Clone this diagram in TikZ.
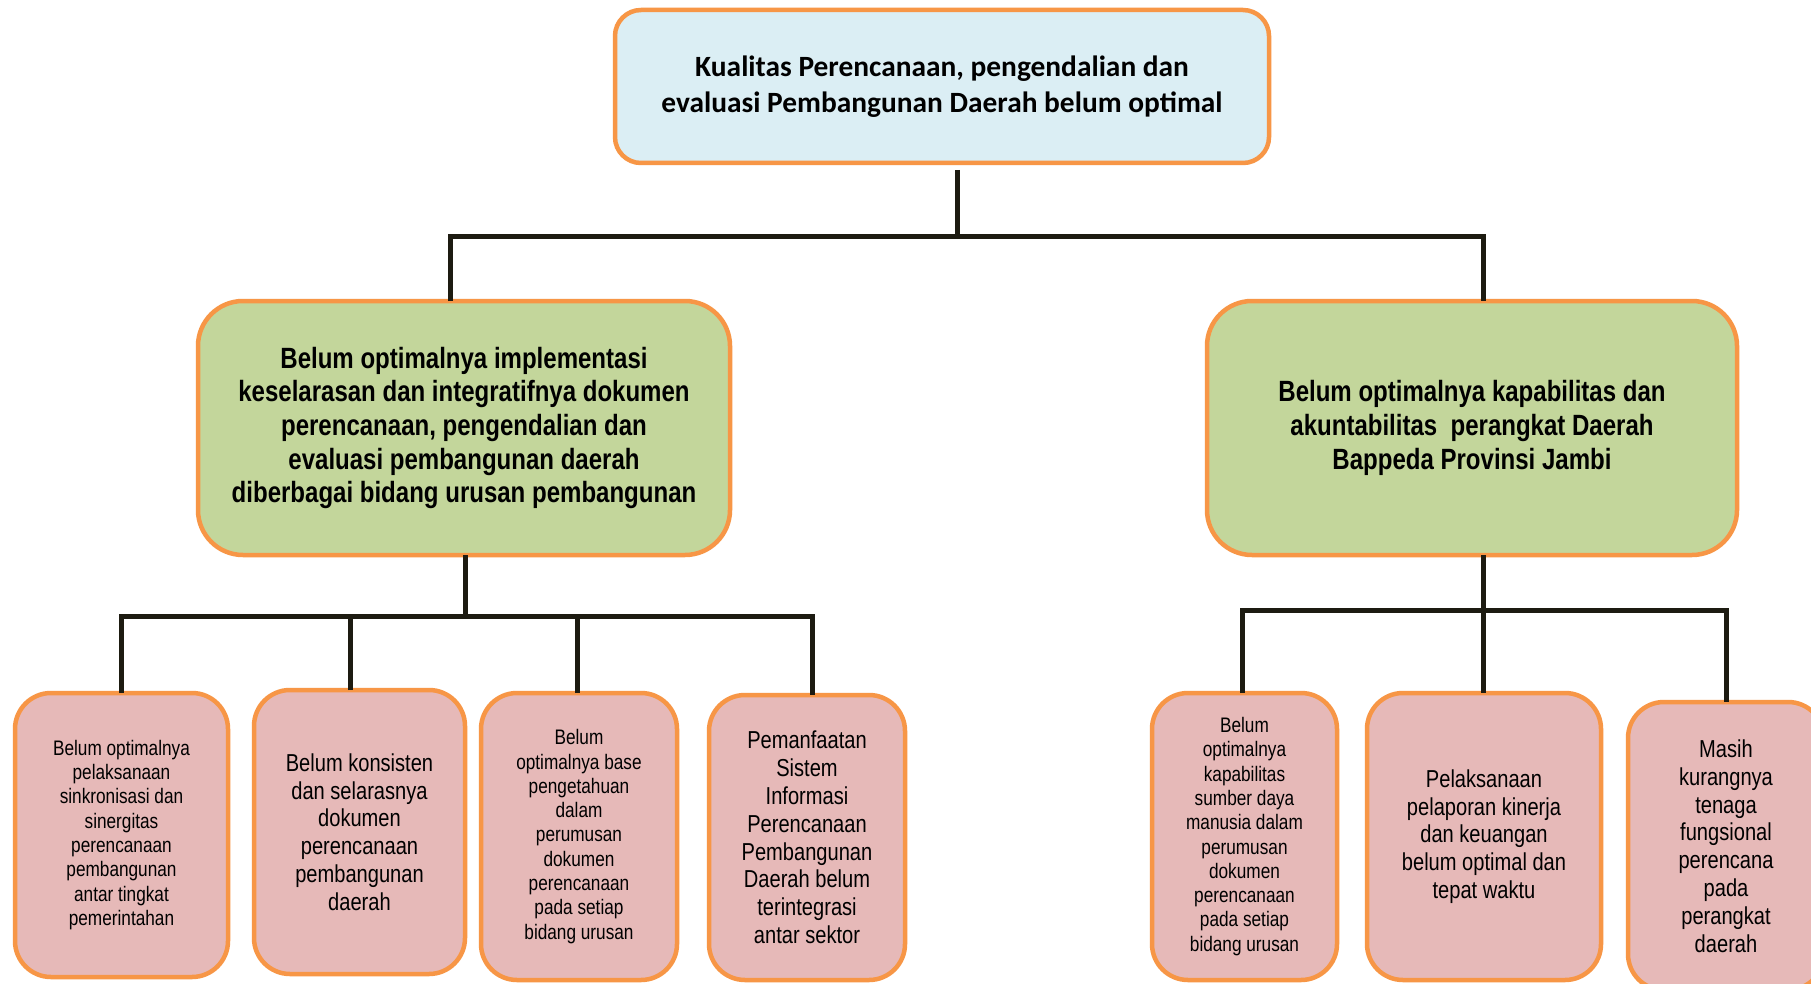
\documentclass[tikz,border=0pt]{standalone}
\usepackage{fontspec}
\setmainfont{Liberation Sans}
\newfontfamily\carlito{Carlito}
\newfontfamily\narrowfont[FakeStretch=0.82]{Liberation Sans}
\usetikzlibrary{calc}
\definecolor{obor}{HTML}{F79646}
\definecolor{topblue}{HTML}{DBEEF4}
\definecolor{midgreen}{HTML}{C3D69B}
\definecolor{lowpink}{HTML}{E6B9B8}
\definecolor{linec}{HTML}{1D1B11}
\tikzset{
  box/.style={draw=obor, line width=4.5pt, align=center, inner sep=0pt, outer sep=0pt},
  topbox/.style={box, fill=topblue, rounded corners=26pt, font=\carlito\bfseries\fontsize{29.4}{36}\selectfont},
  midbox/.style={box, fill=midgreen, rounded corners=45pt, font=\narrowfont\bfseries\fontsize{29.3}{33.7}\selectfont},
  lowbox/.style={box, fill=lowpink, rounded corners=36pt},
  smalltxt/.style={font=\narrowfont\fontsize{21}{24.3}\selectfont},
  bigtxt/.style={font=\narrowfont\fontsize{24.5}{27.8}\selectfont},
  conn/.style={draw=linec, line width=5pt},
}
\begin{document}
\begin{tikzpicture}[x=1pt,y=-1pt]
\clip (0,0) rectangle (1811,984);
\fill[white] (0,0) rectangle (1811,984);

% top
\node[topbox, minimum width=654pt, minimum height=153pt] (top) at (942,86.5)
  {Kualitas Perencanaan, pengendalian dan\\evaluasi Pembangunan Daerah belum optimal};

% middle
\node[midbox, minimum width=532pt, minimum height=254pt] (g1) at (464,428)
  {Belum optimalnya implementasi\\keselarasan dan integratifnya dokumen\\perencanaan, pengendalian dan\\evaluasi pembangunan daerah\\diberbagai bidang urusan pembangunan};
\node[midbox, minimum width=530pt, minimum height=254pt] (g2) at (1472,428)
  {Belum optimalnya kapabilitas dan\\akuntabilitas\ \ perangkat Daerah\\Bappeda Provinsi Jambi};

% bottom
\node[lowbox, smalltxt, minimum width=213pt, minimum height=284pt] (c1) at (121.5,835)
  {Belum optimalnya\\pelaksanaan\\sinkronisasi dan\\sinergitas\\perencanaan\\pembangunan\\antar tingkat\\pemerintahan};
\node[lowbox, bigtxt, minimum width=211pt, minimum height=284pt] (c2) at (359.5,832)
  {Belum konsisten\\dan selarasnya\\dokumen\\perencanaan\\pembangunan\\daerah};
\node[lowbox, smalltxt, minimum width=196pt, minimum height=287pt] (c3) at (579,836.5)
  {Belum\\optimalnya base\\pengetahuan\\dalam\\perumusan\\dokumen\\perencanaan\\pada setiap\\bidang urusan};
\node[lowbox, bigtxt, minimum width=196pt, minimum height=285pt] (c4) at (807,837.5)
  {Pemanfaatan\\Sistem\\Informasi\\Perencanaan\\Pembangunan\\Daerah belum\\terintegrasi\\antar sektor};
\node[lowbox, smalltxt, minimum width=185pt, minimum height=287pt] (c5) at (1244.5,836.5)
  {Belum\\optimalnya\\kapabilitas\\sumber daya\\manusia dalam\\perumusan\\dokumen\\perencanaan\\pada setiap\\bidang urusan};
\node[lowbox, bigtxt, minimum width=234pt, minimum height=287pt] (c6) at (1484,836.5)
  {Pelaksanaan\\pelaporan kinerja\\dan keuangan\\belum optimal dan\\tepat waktu};
\node[lowbox, bigtxt, minimum width=196pt, minimum height=288pt] (c7) at (1726,846)
  {Masih\\kurangnya\\tenaga\\fungsional\\perencana\\pada\\perangkat\\daerah};

% junction coordinates
\coordinate (t0) at (957,237);
\coordinate (xa) at (450,0);
\coordinate (xb) at (1483,0);
\coordinate (j1) at (465,616);
\coordinate (p1) at (121,0);
\coordinate (p2) at (350,0);
\coordinate (p3) at (577,0);
\coordinate (p4) at (812,0);
\coordinate (j2) at (1483,610);
\coordinate (q1) at (1242,0);
\coordinate (q3) at (1726,0);

% connectors: top level
\draw[conn] ($(top.south -| t0)+(0,7)$) -- (t0);
\draw[conn] (g1.north -| xa) |- (t0) -| (g2.north -| xb);

% left subtree
\draw[conn] (g1.south -| j1) -- (j1);
\draw[conn] (c1.north -| p1) |- (j1) -| (c4.north -| p4);
\draw[conn] (c2.north -| p2) -- (p2 |- j1);
\draw[conn] (c3.north -| p3) -- (p3 |- j1);

% right subtree
\draw[conn] (g2.south -| j2) -- (c6.north -| j2);
\draw[conn] (c5.north -| q1) |- (j2) -| (c7.north -| q3);
\end{tikzpicture}
\end{document}
